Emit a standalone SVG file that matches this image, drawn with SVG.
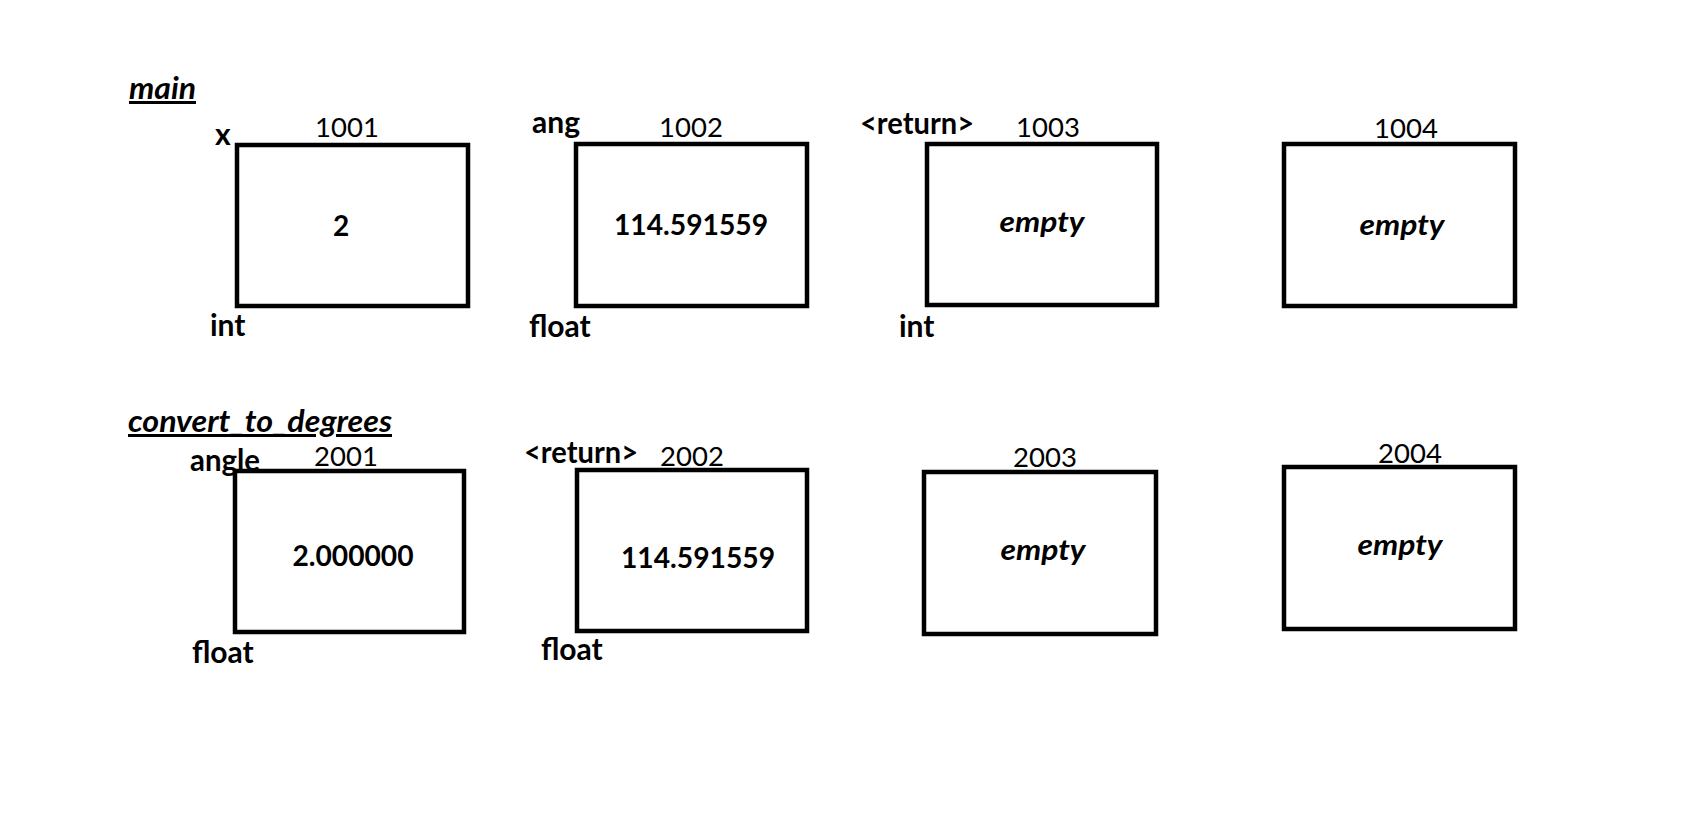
<svg xmlns="http://www.w3.org/2000/svg" width="1700" height="818" viewBox="0 0 1700 818">
<style>
text{font-family:Lato,"Open Sans","Liberation Sans",sans-serif;font-size:27px;fill:#000}
.cell{fill:#fff;stroke:#000;stroke-width:4.5}
.lbl{font-weight:700;font-size:30px}
.addr{font-weight:400;text-anchor:middle;font-size:27.5px}
.val{font-weight:700;text-anchor:middle;font-size:28px}
.emp{font-weight:700;font-style:italic;text-anchor:middle;font-size:29px}
.title{font-weight:700;font-style:italic;font-size:30px;text-decoration:underline;text-decoration-thickness:3px;text-underline-offset:3px}
</style>
<rect width="1700" height="818" fill="#fff"/>
<g id="frame-main">
<text class="title" x="129" y="99" textLength="67" lengthAdjust="spacingAndGlyphs">main</text>
</g>
<g id="frame-convert">
<text class="title" x="128" y="432" textLength="264" lengthAdjust="spacingAndGlyphs">convert_to_degrees</text>
</g>
<g id="cell-1001">
<rect class="cell" x="237" y="145" width="231" height="161"/>
<text class="lbl" x="215" y="145">x</text>
<text class="addr" x="347" y="137">1001</text>
<text class="val" x="341" y="236">2</text>
<text class="lbl" x="210" y="336">int</text>
</g>
<g id="cell-1002">
<rect class="cell" x="576" y="144" width="231" height="162"/>
<text class="lbl" x="532" y="133">ang</text>
<text class="addr" x="691" y="137">1002</text>
<text class="val" x="691" y="235" textLength="154" lengthAdjust="spacingAndGlyphs">114.591559</text>
<text class="lbl" x="529" y="337">float</text>
</g>
<g id="cell-1003">
<rect class="cell" x="927" y="144" width="230" height="161"/>
<text class="lbl" x="860" y="134" textLength="114" lengthAdjust="spacingAndGlyphs">&lt;return&gt;</text>
<text class="addr" x="1048" y="137">1003</text>
<text class="emp" x="1042" y="232" textLength="85" lengthAdjust="spacingAndGlyphs">empty</text>
<text class="lbl" x="899" y="337">int</text>
</g>
<g id="cell-1004">
<rect class="cell" x="1284" y="144" width="231" height="162"/>
<text class="addr" x="1406" y="138">1004</text>
<text class="emp" x="1402" y="235" textLength="85" lengthAdjust="spacingAndGlyphs">empty</text>
</g>
<g id="cell-2001">
<text class="lbl" x="190" y="471" textLength="70" lengthAdjust="spacingAndGlyphs">angle</text>
<rect class="cell" x="235" y="471" width="229" height="161"/>
<text class="addr" x="346" y="466">2001</text>
<text class="val" x="353" y="566" textLength="121" lengthAdjust="spacingAndGlyphs">2.000000</text>
<text class="lbl" x="192" y="663">float</text>
</g>
<g id="cell-2002">
<text class="lbl" x="524" y="463" textLength="114" lengthAdjust="spacingAndGlyphs">&lt;return&gt;</text>
<rect class="cell" x="577" y="470" width="230" height="161"/>
<text class="addr" x="692" y="466">2002</text>
<text class="val" x="698" y="568" textLength="154" lengthAdjust="spacingAndGlyphs">114.591559</text>
<text class="lbl" x="541" y="660">float</text>
</g>
<g id="cell-2003">
<rect class="cell" x="924" y="472" width="232" height="162"/>
<text class="addr" x="1045" y="467">2003</text>
<text class="emp" x="1043" y="560" textLength="85" lengthAdjust="spacingAndGlyphs">empty</text>
</g>
<g id="cell-2004">
<rect class="cell" x="1284" y="467" width="231" height="162"/>
<text class="addr" x="1410" y="463">2004</text>
<text class="emp" x="1400" y="555" textLength="85" lengthAdjust="spacingAndGlyphs">empty</text>
</g>
<g id="connectors"/>
</svg>
